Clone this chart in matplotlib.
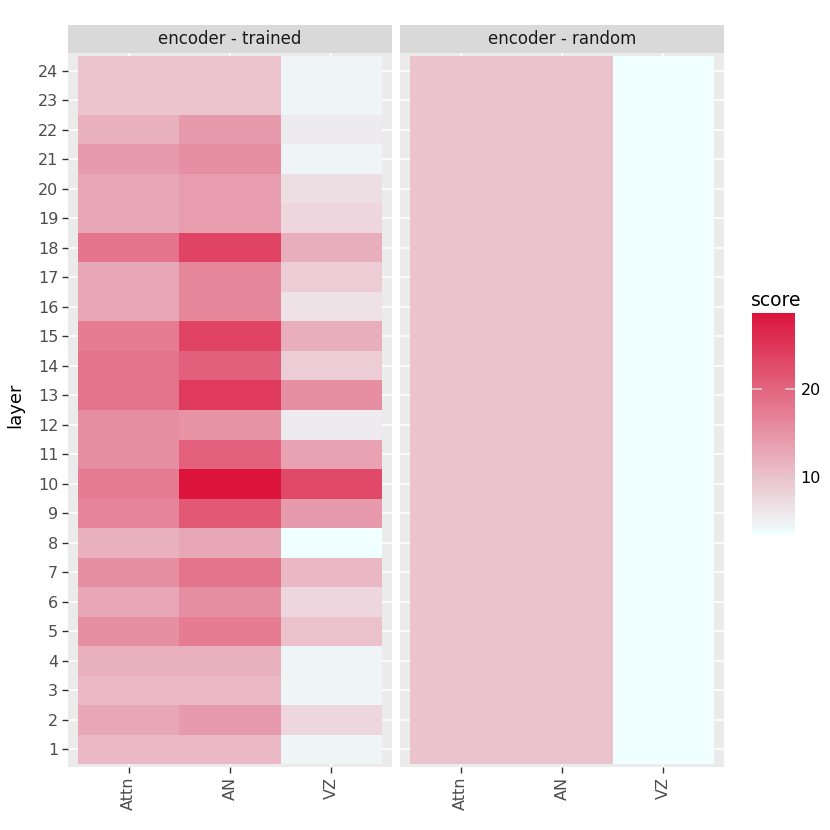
import numpy as np
import matplotlib
matplotlib.use("Agg")
import matplotlib.pyplot as plt
from matplotlib.colors import LinearSegmentedColormap, Normalize

# ---- data ----
layers = list(range(1, 25))
models = ["Attn", "AN", "VZ"]
panels = ["encoder - trained", "encoder - random"]

trained_attn = [10.9, 12.95, 10.9, 11.9, 15.5, 12.95, 15.5, 11.9, 16.6, 17.5, 15.5, 15.5,
                18.4, 18.4, 17.5, 12.95, 12.95, 18.4, 12.95, 12.95, 14.25, 11.9, 9.7, 9.7]
trained_an = [10.9, 14.25, 10.9, 11.9, 17.5, 15.5, 18.4, 12.95, 21.2, 28.7, 20.3, 15.0,
              24.6, 20.5, 23.6, 16.3, 16.3, 23.6, 13.9, 13.9, 15.5, 14.25, 9.7, 9.7]
trained_vz = [4.5, 7.8, 4.5, 4.5, 10.0, 7.8, 11.0, 3.4, 14.25, 22.9, 13.4, 5.6,
              15.5, 8.85, 12.1, 6.5, 8.85, 12.1, 7.8, 7.0, 4.5, 5.6, 4.5, 4.5]
random_attn = [9.8] * 24
random_an = [9.8] * 24
random_vz = [3.35] * 24

cbar_ticks = [10, 20]

# azure -> crimson gradient
cmap = LinearSegmentedColormap.from_list("score", ["#F0FFFF", "#DC143C"])

all_vals = np.array(trained_attn + trained_an + trained_vz + random_attn + random_an + random_vz)
norm = Normalize(vmin=all_vals.min(), vmax=all_vals.max())

panel_data = [np.array([trained_attn, trained_an, trained_vz]).T,
              np.array([random_attn, random_an, random_vz]).T]

W = 830
fig = plt.figure(figsize=(8.3, 8.3), dpi=100)


def fx(px):
    return px / W


panel_left = [68, 400]
panel_w = 324
top, bottom = 53, 767
strip_h = 28

for i, (name, data) in enumerate(zip(panels, panel_data)):
    ax = fig.add_axes([fx(panel_left[i]), 1 - fx(bottom), fx(panel_w), fx(bottom - top)])
    ax.set_facecolor("#EBEBEB")
    xe = np.arange(0.5, len(models) + 1)
    ye = np.arange(0.5, len(layers) + 1)
    ax.pcolormesh(xe, ye, data, cmap=cmap, norm=norm, zorder=2)
    ax.set_xlim(0.4, len(models) + 0.6)
    ax.set_ylim(0.4, len(layers) + 0.6)
    ax.set_xticks(range(1, len(models) + 1))
    ax.set_xticklabels(models, rotation=90, va="top", ha="center")
    ax.set_yticks(layers)
    ax.grid(True, color="white", lw=1.1, zorder=1)
    ax.set_axisbelow(True)
    for s in ax.spines.values():
        s.set_visible(False)
    ax.tick_params(length=4, width=1, color="#333333", labelcolor="#4D4D4D",
                   labelsize=11.5, pad=3)
    if i == 0:
        ax.set_yticklabels([str(l) for l in layers])
    else:
        ax.tick_params(axis="y", left=False, labelleft=False)

    # facet strip
    sax = fig.add_axes([fx(panel_left[i]), 1 - fx(top), fx(panel_w), fx(strip_h)])
    sax.set_facecolor("#D9D9D9")
    sax.set_xticks([])
    sax.set_yticks([])
    for s in sax.spines.values():
        s.set_visible(False)
    sax.text(0.5, 0.5, name, ha="center", va="center", fontsize=12,
             color="#1A1A1A", transform=sax.transAxes)

fig.text(fx(15), 1 - fx(405), "layer", rotation=90, ha="center", va="center", fontsize=13)

# ---- colourbar legend ----
cax = fig.add_axes([fx(752), 1 - fx(535), fx(43), fx(222)])
grad = np.linspace(norm.vmin, norm.vmax, 300).reshape(-1, 1)
cax.imshow(grad, cmap=cmap, norm=norm, aspect="auto", origin="lower",
           extent=[0, 1, norm.vmin, norm.vmax])
cax.set_xlim(0, 1)
cax.set_ylim(norm.vmin, norm.vmax)
for t in cbar_ticks:
    cax.plot([0, 0.2], [t, t], color="#D0D0D0", lw=1.2)
    cax.plot([0.8, 1], [t, t], color="#D0D0D0", lw=1.2)
cax.set_xticks([])
cax.yaxis.tick_right()
cax.set_yticks(cbar_ticks)
cax.tick_params(axis="y", length=0, labelsize=11.5, labelcolor="black", pad=4)
for s in cax.spines.values():
    s.set_visible(False)
fig.text(fx(751), 1 - fx(300), "score", fontsize=13.5, ha="left", va="center")

fig.savefig("out.png", dpi=100)
